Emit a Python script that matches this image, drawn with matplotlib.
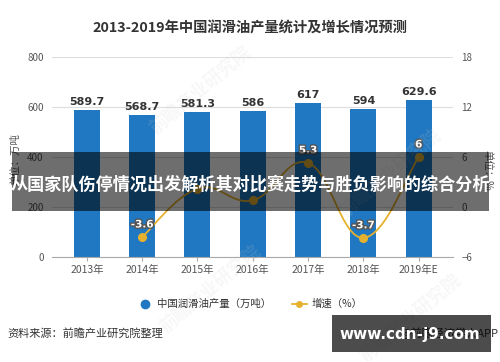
import numpy as np
import matplotlib
matplotlib.use('Agg')
import matplotlib.pyplot as plt
from matplotlib.path import Path
from matplotlib.patches import PathPatch, Rectangle
from matplotlib.lines import Line2D
import matplotlib.patheffects as pe

plt.rcParams['font.family'] = ['Noto Sans CJK SC', 'DejaVu Sans']

years = ['2013年', '2014年', '2015年', '2016年', '2017年', '2018年', '2019年E']
output = [589.7, 568.7, 581.3, 586, 617, 594, 629.6]
growth = [np.nan, -3.6, 2.2, 0.8, 5.3, -3.7, 6]
growth_labels = ['', '-3.6', '', '', '5.3', '-3.7', '6']
left_ticks = [0, 200, 400, 600, 800]
right_ticks = [-6, 0, 6, 12, 18]

bar_color = '#1f78c1'
line_color = '#e6b12e'

fig = plt.figure(figsize=(5, 3.62), dpi=100)
ax = fig.add_axes([0.104, 0.29, 0.802, 0.5525])
x = np.arange(len(years))

ax.bar(x, output, width=0.47, color=bar_color, zorder=2)
for xi, v in zip(x, output):
    ax.text(xi, v + 12, ('%g' % v), ha='center', va='bottom', fontsize=8,
            fontweight='bold', color='#333333', family=['DejaVu Sans'])
ax.set_ylim(0, 800)
ax.set_yticks(left_ticks)
ax.set_xlim(-0.63, 6.62)
ax.set_xticks(x)
ax.set_xticklabels(years)
ax.grid(axis='y', color='#dddddd', linewidth=0.8, zorder=0)
ax.set_axisbelow(True)
for s in ['top', 'left', 'right']:
    ax.spines[s].set_visible(False)
ax.spines['bottom'].set_color('#aaaaaa')
ax.tick_params(axis='y', length=0, labelsize=7, labelcolor='#555555', pad=6)
ax.tick_params(axis='x', length=3, color='#aaaaaa', labelsize=7.5, labelcolor='#555555', pad=3)

ax2 = ax.twinx()
ax2.set_ylim(-6, 18)
ax2.set_yticks(right_ticks)
for s in ['top', 'left', 'right', 'bottom']:
    ax2.spines[s].set_visible(False)
ax2.tick_params(axis='y', length=0, labelsize=7, labelcolor='#555555', pad=6)

# smooth growth line (bezier through the points)
gx = [xi for xi, g in zip(x, growth) if not np.isnan(g)]
gy = [g for g in growth if not np.isnan(g)]
pts = np.array(list(zip(gx, gy)), dtype=float)
verts = [tuple(pts[0])]
codes = [Path.MOVETO]
k = 0.2
for i in range(len(pts) - 1):
    p0 = pts[i - 1] if i > 0 else pts[i]
    p1 = pts[i]
    p2 = pts[i + 1]
    p3 = pts[i + 2] if i + 2 < len(pts) else pts[i + 1]
    c1 = p1 + (p2 - p0) * k
    c2 = p2 - (p3 - p1) * k
    verts += [tuple(c1), tuple(c2), tuple(p2)]
    codes += [Path.CURVE4] * 3
ax2.add_patch(PathPatch(Path(verts, codes), facecolor='none', edgecolor=line_color,
                        linewidth=1.3, zorder=3))
ax2.plot(gx, gy, 'o', color=line_color, markersize=5.5, zorder=4)
for xi, g, lab in zip(x, growth, growth_labels):
    if lab:
        t = ax2.text(xi, g + 0.9, lab, ha='center', va='bottom', fontsize=7.5,
                     fontweight='bold', color='white', family=['DejaVu Sans'], zorder=5)
        t.set_path_effects([pe.withStroke(linewidth=2, foreground='#555555')])

fig.text(0.5, 0.923, '2013-2019年中国润滑油产量统计及增长情况预测', ha='center', va='center',
         fontsize=10.3, fontweight='bold', color='#333333')
fig.text(0.03, 0.56, '单位：万吨', rotation=90, ha='center', va='center', fontsize=7.5, color='#555555')
fig.text(0.974, 0.53, '单位：%', rotation=270, ha='center', va='center', fontsize=7.5, color='#555555')

# watermarks
for wx, wy in [(0.4, 0.75), (0.42, 0.2), (0.78, 0.52), (0.82, 0.12)]:
    fig.text(wx, wy, '前瞻产业研究院', rotation=40, ha='center', va='center', fontsize=13,
             color='#cccccc', alpha=0.15, fontweight='bold')

handles = [Line2D([], [], marker='o', linestyle='none', color=bar_color, markersize=6),
           Line2D([], [], marker='o', color=line_color, markersize=4, linewidth=1.3)]
fig.legend(handles, ['中国润滑油产量（万吨）', '增速（%）'], loc='center', bbox_to_anchor=(0.5, 0.16),
           ncol=2, frameon=False, fontsize=7.5, handlelength=1.4, columnspacing=2.0,
           handletextpad=0.5, labelcolor='#333333')

fig.text(0.014, 0.08, '资料来源：前瞻产业研究院整理', ha='left', va='center', fontsize=8, color='#333333')
fig.text(0.996, 0.08, '@前瞻经济学人APP', ha='right', va='center', fontsize=8, color='#333333')

# overlay band
fig.patches.append(Rectangle((0.024, 0.417), 0.954, 0.163, transform=fig.transFigure,
                             facecolor='black', alpha=0.57, edgecolor='none', zorder=10))
fig.text(0.5, 0.49, '从国家队伤停情况出发解析其对比赛走势与胜负影响的综合分析', ha='center', va='center',
         fontsize=12.3, fontweight='bold', color='white', zorder=11)

fig.patches.append(Rectangle((0.664, 0.028), 0.318, 0.102, transform=fig.transFigure,
                             facecolor='black', alpha=0.7, edgecolor='none', zorder=10))
fig.text(0.82, 0.075, 'www.cdn-j9.com', ha='center', va='center', fontsize=11,
         fontweight='bold', color='white', family=['DejaVu Sans'], zorder=11)

fig.savefig('out.png', dpi=100)
